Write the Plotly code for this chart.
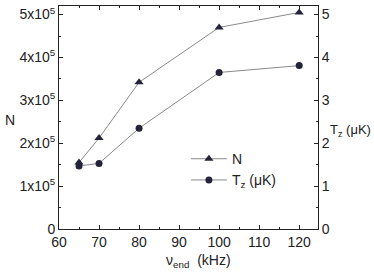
import plotly.graph_objects as go

x_khz = [65, 70, 80, 100, 120]
n_atoms = [1.55e5, 2.12e5, 3.42e5, 4.70e5, 5.05e5]
tz_uk = [1.47, 1.53, 2.35, 3.65, 3.81]
n_tickvals = [0, 1e5, 2e5, 3e5, 4e5, 5e5]
n_ticktext = ["0", "1x10<sup>5</sup>", "2x10<sup>5</sup>", "3x10<sup>5</sup>", "4x10<sup>5</sup>", "5x10<sup>5</sup>"]
tz_tickvals = [0, 1, 2, 3, 4, 5]
x_tickvals = [60, 70, 80, 90, 100, 110, 120]

line_col = "#8a8a8a"
mark_col = "#23233a"
font = dict(family="Liberation Sans, Arial, sans-serif", size=14, color="#222")
font_small = dict(family="Liberation Sans, Arial, sans-serif", size=13, color="#222")

fig = go.Figure()
fig.add_trace(go.Scatter(x=x_khz, y=n_atoms, mode="lines+markers", name="N",
                         line=dict(color=line_col, width=1),
                         marker=dict(symbol="triangle-up", size=8, color=mark_col)))
fig.add_trace(go.Scatter(x=x_khz, y=tz_uk, mode="lines+markers", name="T<sub>z</sub> (μK)",
                         yaxis="y2",
                         line=dict(color=line_col, width=1),
                         marker=dict(symbol="circle", size=7, color=mark_col)))

axis_common = dict(showline=True, linecolor="#222", linewidth=1, ticks="inside",
                   tickcolor="#222", ticklen=4, showgrid=False, zeroline=False,
                   tickfont=font, automargin=False)

fig.update_layout(
    template="none",
    width=374, height=274,
    margin=dict(l=59, r=56, t=6, b=45, autoexpand=False),
    paper_bgcolor="white", plot_bgcolor="white",
    font=font,
    showlegend=True,
    legend=dict(x=0.49, y=0.385, xanchor="left", yanchor="top",
                bgcolor="rgba(0,0,0,0)", font=font, itemwidth=36,
                tracegroupgap=2),
    xaxis=dict(range=[60, 124.7], tickvals=x_tickvals, mirror="ticks",
               minor=dict(dtick=5, ticks="inside", ticklen=2, tickcolor="#222"),
               **axis_common),
    yaxis=dict(range=[0, 5.2e5], tickvals=n_tickvals, ticktext=n_ticktext,
               minor=dict(tickvals=[0.5e5, 1.5e5, 2.5e5, 3.5e5, 4.5e5], ticks="inside", ticklen=2, tickcolor="#222"),
               **axis_common),
    yaxis2=dict(range=[0, 5.2], tickvals=tz_tickvals, overlaying="y", side="right",
                minor=dict(dtick=0.5, ticks="inside", ticklen=2, tickcolor="#222"),
                **axis_common),
)

fig.add_annotation(text="N", xref="paper", yref="paper",
                   x=-59 / 259, y=(229 - 120) / 223, xshift=3, xanchor="left", yanchor="middle",
                   showarrow=False, font=font)
fig.add_annotation(text="T<sub>z</sub> (μK)", xref="paper", yref="paper",
                   x=1.0 + 56 / 259, y=(229 - 130) / 223, xshift=-1, xanchor="right", yanchor="middle",
                   showarrow=False, font=font_small)
fig.add_annotation(text="ν<sub>end</sub>  (kHz)", xref="paper", yref="paper",
                   x=(198 - 59) / 259, y=(229 - 261) / 223, xanchor="center", yanchor="middle",
                   showarrow=False, font=font)

fig.write_html("out.html", config={"displayModeBar": False})

with open("out.html", encoding="utf-8") as f:
    html = f.read()
html = html.replace("<head>", "<head><style>html,body{margin:0;padding:0;overflow:hidden;}</style>", 1)
with open("out.html", "w", encoding="utf-8") as f:
    f.write(html)
